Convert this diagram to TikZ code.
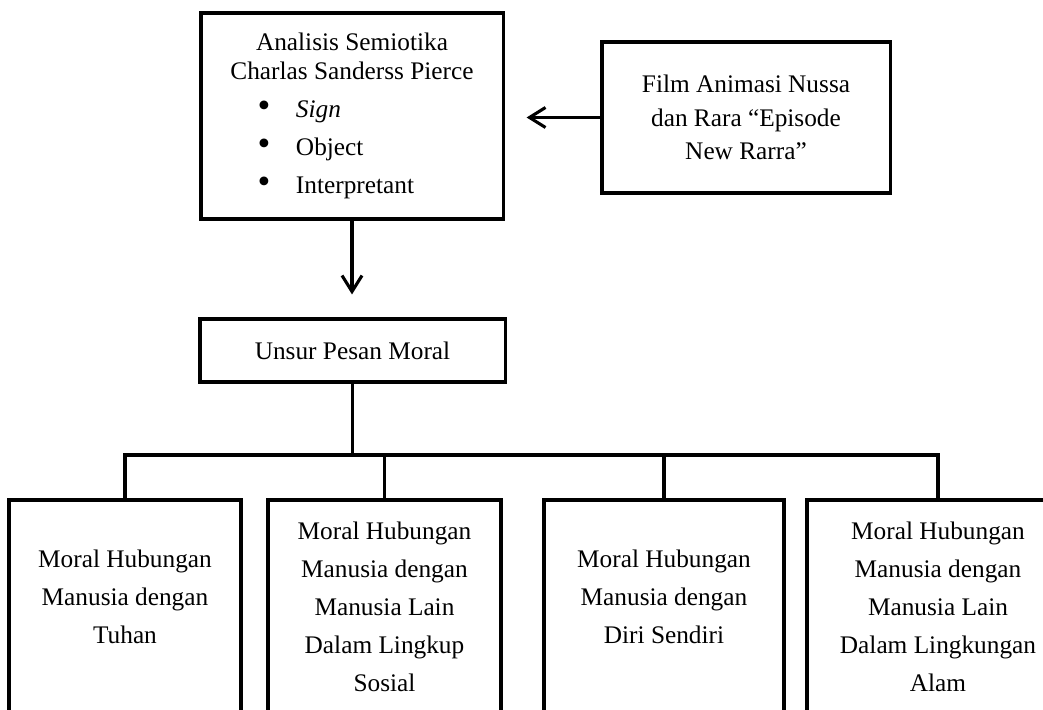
\documentclass[tikz,border=0pt]{standalone}
\usepackage{fontspec}
\setmainfont{Liberation Serif}
\usetikzlibrary{arrows.meta, positioning}

\newcommand{\bulletline}[1]{\makebox[5cm][l]{\hspace{0.1cm}\makebox[0.4cm]{\fontsize{26}{26}\selectfont\textbullet}\hspace{0.6cm}#1}}

\begin{document}
\begin{tikzpicture}[x=0.025cm, y=-0.025cm,
    box/.style={rectangle, draw, line width=2.2pt, align=center, inner sep=2pt,
                font=\fontsize{18}{27}\selectfont},
    arr/.style={-{Straight Barb[length=4mm, width=5mm]}, line width=2.2pt},
    link/.style={line width=2.2pt}
]
\useasboundingbox (0,0) rectangle (1043,709);
\clip (0,0) rectangle (1043,709);

\node[box, minimum width=7.55cm, minimum height=5.15cm] (ana) at (352,116)
    {Analisis Semiotika\\[-6pt]Charlas Sanderss Pierce\\
     \bulletline{\textit{Sign}}\\ \bulletline{Object}\\ \bulletline{Interpretant}};
\node[box, minimum width=7.2cm, minimum height=3.775cm, font=\fontsize{18}{24}\selectfont] (film) at (746,117.5)
    {Film Animasi Nussa\\dan Rara “Episode\\New Rarra”};
\node[box, minimum width=7.625cm, minimum height=1.575cm] (unsur) at (352.5,350.5) {Unsur Pesan Moral};

\node[box, minimum width=5.8cm, minimum height=5.35cm] (b1) at (125,607)
    {Moral Hubungan\\Manusia dengan\\Tuhan\\[-12.6pt]\mbox{}};
\node[box, minimum width=5.825cm, minimum height=5.35cm] (b2) at (384.5,607)
    {Moral Hubungan\\Manusia dengan\\Manusia Lain\\Dalam Lingkup\\Sosial};
\node[box, minimum width=6cm, minimum height=5.35cm] (b3) at (664,607)
    {Moral Hubungan\\Manusia dengan\\Diri Sendiri\\[-12.6pt]\mbox{}};
\node[box, minimum width=6.55cm, minimum height=5.35cm] (b4) at (938,607)
    {Moral Hubungan\\Manusia dengan\\Manusia Lain\\Dalam Lingkungan\\Alam};

\coordinate (bus) at (352,455);

\draw[arr, shorten >=0.55cm] (film.west) -- (film.west -| ana.east);
\draw[arr, shorten >=0.575cm] (ana.south) -- (ana.south |- unsur.north);
\draw[link] (unsur.south) -- (unsur.south |- bus);
\draw[link] (b1.north) |- (bus) -| (b4.north);
\draw[link] (b2.north) -- (b2.north |- bus);
\draw[link] (b3.north) -- (b3.north |- bus);
\end{tikzpicture}
\end{document}
